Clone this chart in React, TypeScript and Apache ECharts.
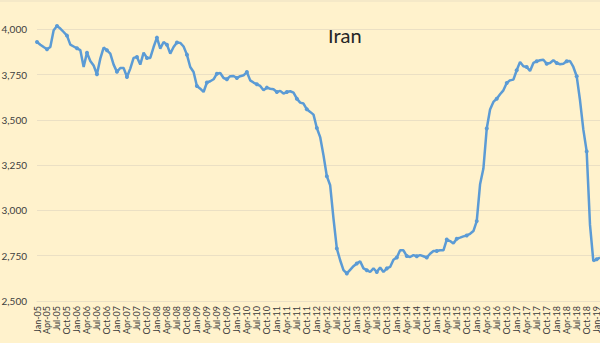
import React, { useEffect, useRef } from "react";
import * as echarts from "echarts";

const monthNames = ["Jan", "Feb", "Mar", "Apr", "May", "Jun", "Jul", "Aug", "Sep", "Oct", "Nov", "Dec"];
const yearLabels = ["05", "06", "07", "08", "09", "10", "11", "12", "13", "14", "15", "16", "17", "18", "19"];

const v2005 = [3930, 3915, 3902, 3890, 3902, 3995, 4018, 4004, 3985, 3965, 3915, 3905];
const v2006 = [3895, 3885, 3792, 3871, 3825, 3800, 3752, 3838, 3899, 3884, 3866, 3805];
const v2007 = [3765, 3786, 3786, 3737, 3783, 3842, 3847, 3805, 3871, 3842, 3842, 3902];
const v2008 = [3954, 3893, 3930, 3915, 3866, 3902, 3927, 3925, 3905, 3860, 3792, 3764];
const v2009 = [3687, 3672, 3654, 3706, 3713, 3724, 3755, 3759, 3731, 3724, 3741, 3742];
const v2010 = [3731, 3741, 3746, 3764, 3718, 3706, 3696, 3687, 3663, 3678, 3672, 3669];
const v2011 = [3654, 3660, 3645, 3654, 3658, 3650, 3617, 3595, 3590, 3558, 3544, 3529];
const v2012 = [3455, 3405, 3304, 3189, 3139, 2955, 2790, 2725, 2670, 2652, 2672, 2692];
const v2013 = [2707, 2720, 2680, 2670, 2660, 2680, 2660, 2685, 2660, 2680, 2688, 2728];
const v2014 = [2740, 2780, 2780, 2748, 2743, 2753, 2747, 2753, 2747, 2740, 2761, 2776];
const v2015 = [2776, 2780, 2780, 2839, 2831, 2817, 2844, 2850, 2857, 2862, 2871, 2886];
const v2016 = [2941, 3144, 3231, 3452, 3557, 3599, 3617, 3641, 3663, 3704, 3718, 3722];
const v2017 = [3774, 3820, 3796, 3792, 3770, 3814, 3823, 3829, 3832, 3810, 3814, 3829];
const v2018 = [3814, 3807, 3810, 3823, 3825, 3792, 3741, 3608, 3446, 3326, 2920, 2720];
const v2019 = [2730, 2740];

const values = [
  ...v2005, ...v2006, ...v2007, ...v2008, ...v2009, ...v2010, ...v2011,
  ...v2012, ...v2013, ...v2014, ...v2015, ...v2016, ...v2017, ...v2018, ...v2019,
];

const categories: string[] = [];
yearLabels.forEach((y) => {
  monthNames.forEach((m) => {
    if (categories.length < values.length) categories.push(`${m}-${y}`);
  });
});

const FONT = "Lato, 'Noto Sans', sans-serif";
const GRID_COLOR = "#ebe0c4";

export default function App() {
  const ref = useRef<HTMLDivElement>(null);

  useEffect(() => {
    if (!ref.current) return;
    const chart = echarts.init(ref.current, undefined, { renderer: "svg" });
    chart.setOption({
      animation: false,
      backgroundColor: "#fff2cc",
      textStyle: { fontFamily: FONT },
      grid: {
        left: 37,
        right: 0,
        top: -16,
        bottom: 42,
        containLabel: false,
        outerBoundsMode: "none",
      },
      graphic: [
        {
          type: "line",
          shape: { x1: 0, y1: 1, x2: 600, y2: 1 },
          style: { stroke: GRID_COLOR, lineWidth: 1 },
        },
        {
          type: "text",
          left: 328,
          top: 25,
          style: { text: "Iran", fontSize: 20, fill: "#262626", fontFamily: FONT },
        },
      ],
      xAxis: {
        type: "category",
        data: categories,
        boundaryGap: false,
        axisLine: { show: true, lineStyle: { color: GRID_COLOR } },
        axisTick: { show: false },
        axisLabel: {
          interval: 2,
          rotate: 90,
          margin: 5,
          fontSize: 9,
          color: "#3a3a3a",
          fontFamily: FONT,
        },
        splitLine: { show: false },
      },
      yAxis: {
        type: "value",
        min: 2500,
        max: 4250,
        interval: 250,
        axisLine: { show: false },
        axisTick: { show: false },
        axisLabel: {
          margin: 10,
          fontSize: 10,
          color: "#404040",
          fontFamily: FONT,
          formatter: (v: number) => (v > 4000 ? "" : v.toLocaleString("en-US")),
        },
        splitLine: { show: true, lineStyle: { color: GRID_COLOR, width: 1 } },
      },
      series: [
        {
          type: "line",
          data: values,
          symbol: "circle",
          symbolSize: 4,
          showSymbol: true,
          lineStyle: { color: "#5b9bd5", width: 2.5 },
          itemStyle: { color: "#5b9bd5" },
        },
      ],
    });
    return () => chart.dispose();
  }, []);

  return <div ref={ref} style={{ width: 600, height: 343, position: "absolute", left: 0, top: 0 }} />;
}
